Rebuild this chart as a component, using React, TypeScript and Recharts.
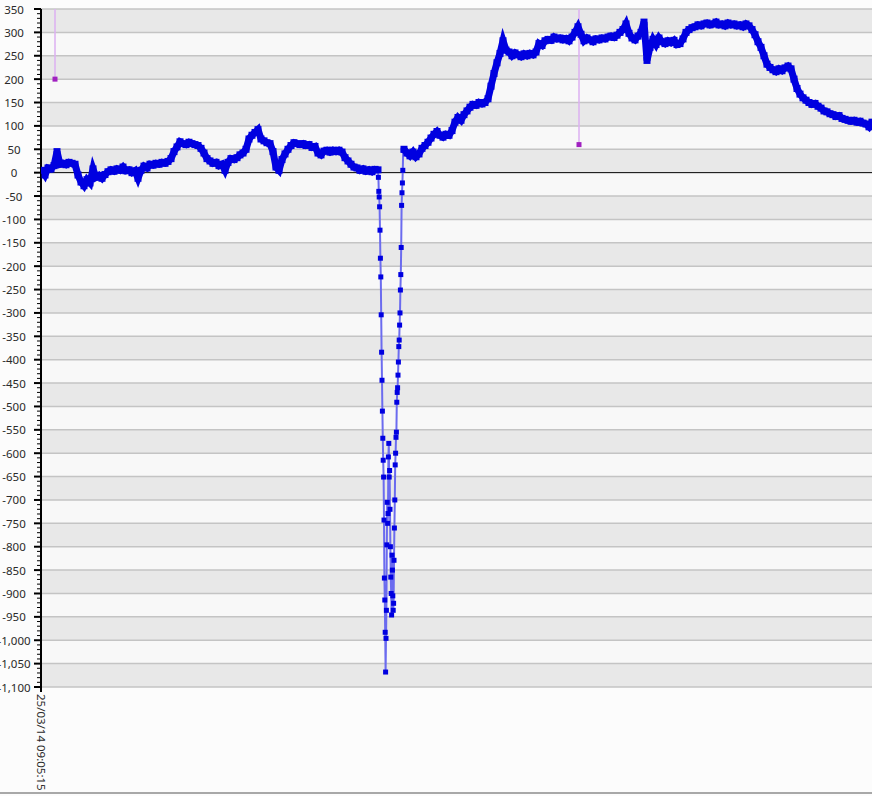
import React from 'react';
import { ComposedChart, Line, XAxis, YAxis, ReferenceArea, ReferenceLine } from 'recharts';

// ---- data ----
const startLabel = '25/03/14 09:05:15';

// steady segment before the dip (one sample every 3 s, starting at t = 1 s)
const segAStart = 1;
const segAStep = 3;
const segAValues = [
  5, -5, 10, 8, 15, 45, 18, 20, 17, 22, 20, 18, -5, -20, -28, -15, -22, 8, -10, -6,
  -12, -4, 2, 6, 3, 8, 5, 12, 4, 6, 0, 4, -12, 5, 14, 10, 18, 16, 20, 18,
  22, 20, 24, 30, 45, 55, 66, 62, 60, 65, 62, 60, 58, 52, 42, 30, 25, 20, 22, 15,
  18, 5, 22, 30, 28, 32, 38, 42, 50, 72, 80, 86, 92, 72, 68, 64, 62, 45, 12, 5,
  28, 40, 50, 58, 64, 62, 60, 62, 58, 60, 54, 56, 42, 38, 46, 48, 44, 48, 45, 48,
  44, 32, 25, 18, 12, 10, 5, 8, 3, 6, 2, 7, 6,
];

// fast-sampled dip (one sample every 0.4 s)
const dipStart = 337.4;
const dipStep = 0.4;
const dipValues = [
  -10, -40, -52, -73, -123, -183, -223, -304, -384, -444, -510, -568, -615, -651, -743,
  -867, -914, -983, -1068, -996, -936, -796, -705, -750, -729, -608, -579, -651, -637,
  -720, -800, -865, -900, -946, -818, -850, -905, -936, -921, -829, -760, -700, -625,
  -600, -566, -555, -491, -470, -460, -433, -405, -372, -358, -326, -300, -251, -218,
  -160, -70, -43, -22, 5, 48,
];

// steady segment after the dip
const segBStart = 363;
const segBStep = 3;
const segBValues = [
  50, 42, 36, 44, 34, 40, 52, 58, 65, 74, 82, 88, 80, 76, 82, 80, 90, 108, 118, 112,
  124, 132, 140, 146, 144, 150, 147, 150, 158, 185, 212, 235, 255, 282, 262, 258, 250, 256, 252, 248,
  254, 250, 255, 252, 258, 276, 272, 282, 285, 283, 290, 286, 288, 284, 287, 282, 290, 300, 312, 296,
  282, 288, 284, 280, 286, 284, 288, 286, 290, 292, 289, 294, 300, 306, 318, 298, 288, 284, 292, 300,
  322, 240, 268, 285, 274, 288, 280, 276, 282, 278, 283, 274, 276, 286, 300, 306, 310, 312, 316, 314,
  318, 320, 316, 318, 322, 316, 318, 314, 320, 316, 318, 314, 316, 312, 318, 314, 306, 295, 280, 268,
  250, 232, 225, 220, 216, 222, 218, 224, 228, 222, 200, 180, 168, 160, 155, 150, 146, 148, 142, 138,
  132, 130, 126, 124, 120, 122, 116, 114, 112, 110, 112, 108, 110, 106, 104, 98, 108,
];

// event markers
const eventTimes = [14, 538];
const eventValues = [200, 60];

const xDomain = [0, 831];
const yMin = -1100;
const yMax = 350;
const majorStep = 50;
const minorStep = 10;

// ---- derived tables ----
const toSeries = (start: number, step: number, values: number[]) =>
  values.map((v, i) => ({ t: +(start + i * step).toFixed(2), v }));

const segA = toSeries(segAStart, segAStep, segAValues);
const segB = toSeries(segBStart, segBStep, segBValues);
const dip = [segA[segA.length - 1], ...toSeries(dipStart, dipStep, dipValues), segB[0]];
const events = eventTimes.map((t, i) => [
  { t, v: yMax },
  { t, v: eventValues[i] },
]);

const majorTicks: number[] = [];
for (let v = yMin; v <= yMax; v += majorStep) majorTicks.push(v);
const allTicks: number[] = [];
for (let v = yMin; v <= yMax; v += minorStep) allTicks.push(v);
const grayBands = majorTicks.filter((v) => v < yMax && ((v - yMin) / majorStep) % 2 === 0);

const FONT = "'Noto Sans', 'Open Sans', sans-serif";

const YTick = (props: any) => {
  const { x, y, payload } = props;
  const v = payload.value;
  const major = v % majorStep === 0;
  return (
    <g>
      <line x1={x - (major ? 7 : 4)} x2={x} y1={y} y2={y} stroke="#000" strokeWidth={major ? 2 : 1} />
      {major && (
        <text
          x={x - 27}
          y={y}
          textAnchor="middle"
          dominantBaseline="central"
          fontSize={11.5}
          fontFamily={FONT}
          fill="#2a2a2a"
        >
          {v.toLocaleString('en-US')}
        </text>
      )}
    </g>
  );
};

const XTick = (props: any) => {
  const { x, y } = props;
  return (
    <text
      x={x}
      y={y}
      transform={`rotate(90, ${x}, ${y})`}
      textAnchor="start"
      dominantBaseline="central"
      fontSize={11.5}
      fontFamily={FONT}
      fill="#2a2a2a"
    >
      {startLabel}
    </text>
  );
};

const square = (fill: string, size: number, onlyLast = false) => (p: any) => {
  if (onlyLast && p.index === 0) return <g key={`e-${p.index}`} />;
  return (
    <rect
      key={`d-${p.index}`}
      x={p.cx - size / 2}
      y={p.cy - size / 2}
      width={size}
      height={size}
      fill={fill}
    />
  );
};

export default function App() {
  return (
    <div
      style={{
        position: 'absolute',
        left: 0,
        top: 0,
        width: 872,
        height: 796,
        background: '#fcfcfc',
        overflow: 'hidden',
      }}
    >
      <ComposedChart width={872} height={796} margin={{ top: 9, right: 0, bottom: 0, left: 0 }}>
        <XAxis
          type="number"
          dataKey="t"
          domain={xDomain}
          ticks={[0]}
          height={109}
          axisLine={false}
          tickLine={{ stroke: '#000', strokeWidth: 2 }}
          tickSize={5}
          tickMargin={2}
          tick={<XTick />}
          allowDataOverflow
        />
        <YAxis
          type="number"
          domain={[yMin, yMax]}
          ticks={allTicks}
          interval={0}
          width={41}
          tickSize={0}
          tickMargin={0}
          tickLine={false}
          axisLine={{ stroke: '#000', strokeWidth: 2 }}
          tick={<YTick />}
          allowDataOverflow
        />
        <ReferenceArea y1={yMin} y2={yMax} fill="#f8f8f8" fillOpacity={1} stroke="none" zIndex={-95} />
        {grayBands.map((b) => (
          <ReferenceArea
            key={`band-${b}`}
            y1={b}
            y2={b + majorStep}
            fill="#e8e8e8"
            fillOpacity={1}
            stroke="none"
            zIndex={-90}
          />
        ))}
        {majorTicks
          .filter((v) => v !== 0)
          .map((v) => (
            <ReferenceLine key={`g-${v}`} y={v} stroke="#c4c4c4" strokeWidth={1.5} zIndex={-80} />
          ))}
        <ReferenceLine y={0} stroke="#000" strokeWidth={1} zIndex={-70} />
        {events.map((d, i) => (
          <Line
            key={`ev-${i}`}
            data={d}
            dataKey="v"
            stroke="#dcb0f2"
            strokeWidth={1.5}
            dot={square('#a020c0', 5, true)}
            activeDot={false}
            isAnimationActive={false}
          />
        ))}
        <Line
          data={dip}
          dataKey="v"
          stroke="#6b6bef"
          strokeWidth={2}
          dot={square('#0000e0', 5)}
          activeDot={false}
          isAnimationActive={false}
        />
        <Line
          data={segA}
          dataKey="v"
          stroke="#0000e0"
          strokeWidth={7}
          dot={square('#0000e0', 7)}
          activeDot={false}
          isAnimationActive={false}
        />
        <Line
          data={segB}
          dataKey="v"
          stroke="#0000e0"
          strokeWidth={7}
          dot={square('#0000e0', 7)}
          activeDot={false}
          isAnimationActive={false}
        />
      </ComposedChart>
      <div
        style={{ position: 'absolute', left: 0, top: 792, width: 872, height: 2, background: '#a8a8a8' }}
      />
    </div>
  );
}
